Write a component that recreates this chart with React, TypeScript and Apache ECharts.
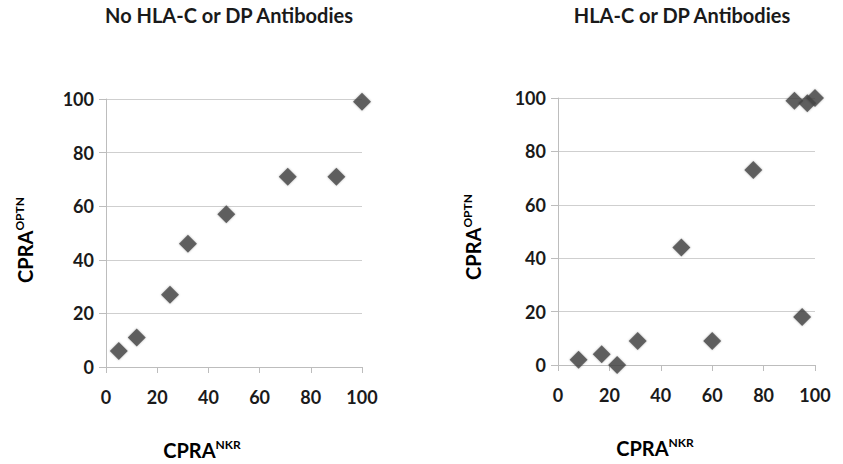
import React, { useEffect, useRef } from "react";
import * as echarts from "echarts";

const leftTitle = "No HLA-C or DP Antibodies";
const rightTitle = "HLA-C or DP Antibodies";
const leftX = [5, 12, 25, 32, 47, 71, 90, 100];
const leftY = [6, 11, 27, 46, 57, 71, 71, 99];
const rightX = [8, 17, 23, 31, 48, 60, 76, 92, 95, 97, 100];
const rightY = [2, 4, 0, 9, 44, 9, 73, 99, 18, 98, 100];

const FONT = "Lato, 'Open Sans', sans-serif";
const TXT = "#1a1a1a";
const AXIS = "#bdbdbd";
const GRIDC = "#cfcfcf";
const MARK = "#434343";

const pairs = (xs: number[], ys: number[]) => xs.map((x, i) => [x, ys[i]]);

const axisLabel = (margin: number) => ({
  color: TXT,
  fontFamily: FONT,
  fontWeight: "bold" as const,
  fontSize: 18,
  margin,
});

const xAxis = (gi: number) => ({
  type: "value",
  gridIndex: gi,
  min: 0,
  max: 100,
  interval: 20,
  axisLine: { show: true, lineStyle: { color: AXIS, width: 1 } },
  axisTick: { show: true, length: 6, lineStyle: { color: AXIS } },
  splitLine: { show: false },
  axisLabel: axisLabel(21),
});

const yAxis = (gi: number) => ({
  type: "value",
  gridIndex: gi,
  min: 0,
  max: 100,
  interval: 20,
  axisLine: { show: true, lineStyle: { color: AXIS, width: 1 } },
  axisTick: { show: true, length: 7, lineStyle: { color: AXIS } },
  splitLine: { show: true, lineStyle: { color: GRIDC, width: 1 } },
  axisLabel: axisLabel(12),
});

const rich = {
  a: { fontFamily: FONT, fontWeight: "bold", fontSize: 20, color: TXT, lineHeight: 24 },
  b: { fontFamily: FONT, fontWeight: "bold", fontSize: 12, color: TXT, lineHeight: 14, verticalAlign: "top" },
};

const axisName = (x: number, y: number, sup: string, rotated: boolean) => ({
  type: "text",
  x,
  y,
  rotation: rotated ? Math.PI / 2 : 0,
  style: {
    text: `{a|CPRA}{b|${sup}}`,
    rich,
    align: "center",
    verticalAlign: "middle",
  },
});

const series = (gi: number, data: number[][]) => ({
  type: "scatter",
  xAxisIndex: gi,
  yAxisIndex: gi,
  symbol: "diamond",
  symbolSize: 18,
  itemStyle: {
    color: MARK,
    shadowBlur: 2,
    shadowColor: "rgba(0,0,0,0.35)",
  },
  data,
});

const titleStyle = { fontFamily: FONT, fontWeight: "bold" as const, fontSize: 20, color: TXT };

export default function App() {
  const ref = useRef<HTMLDivElement>(null);
  useEffect(() => {
    if (!ref.current) return;
    const chart = echarts.init(ref.current, undefined, { renderer: "svg" });
    chart.setOption({
      animation: false,
      backgroundColor: "#ffffff",
      title: [
        { text: leftTitle, left: 229, top: 5, textAlign: "center", padding: 0, textStyle: titleStyle },
        { text: rightTitle, left: 682, top: 5, textAlign: "center", padding: 0, textStyle: titleStyle },
      ],
      grid: [
        { left: 106, top: 99, width: 256, height: 268 },
        { left: 558, top: 98, width: 257, height: 267 },
      ],
      xAxis: [xAxis(0), xAxis(1)],
      yAxis: [yAxis(0), yAxis(1)],
      series: [series(0, pairs(leftX, leftY)), series(1, pairs(rightX, rightY))],
      graphic: [
        axisName(202, 450, "NKR", false),
        axisName(655, 448, "NKR", false),
        axisName(25, 240, "OPTN", true),
        axisName(473, 237, "OPTN", true),
      ],
    });
    return () => chart.dispose();
  }, []);
  return (
    <div
      ref={ref}
      style={{ position: "absolute", left: 0, top: 0, width: 843, height: 464 }}
    />
  );
}
